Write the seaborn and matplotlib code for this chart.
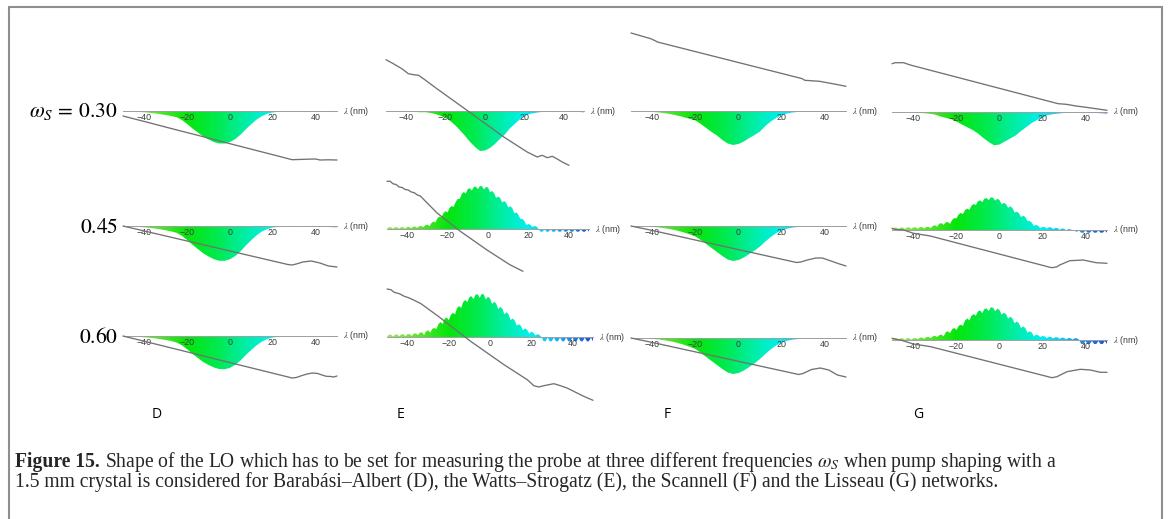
import numpy as np
import matplotlib
matplotlib.use("Agg")
import matplotlib.pyplot as plt
import seaborn as sns
from matplotlib.colors import LinearSegmentedColormap
from matplotlib.lines import Line2D

# ---------------------------------------------------------------- data
X_FINE = np.arange(-50, 51, 1.0)          # wavelength offset grid (nm), 1 nm step
X_COARSE = np.arange(-50, 50.01, 2.5)     # 2.5 nm step
TICKS = [-40, -20, 0, 20, 40]
TICK_LABELS = ['\u221240', '\u221220', '0', '20', '40']
ROW_LABELS = [r'$\omega_S\,=\,0.30$', r'$0.45$', r'$0.60$']
COL_LABELS = ['D', 'E', 'F', 'G']

# spectra (arbitrary units, negative = below the axis)
D1_SPEC = [-0.5, -0.6, -0.8, -1.0, -1.3, -1.8, -2.4, -3.2, -4.0, -5.0, -6.2, -9.0, -13.0, -17.5,
           -21.5, -25.5, -28.5, -31.0, -32.5, -32.5, -31.0, -28.0, -23.5, -18.0, -13.0, -8.5,
           -5.0, -2.8, -1.4, -0.9, -0.6, -0.5, -0.5, -0.5, -0.5, -0.6, -0.7, -0.8, -0.9, -1.0, -1.0]
D2_SPEC = [-0.5, -0.6, -0.8, -1.0, -1.4, -1.9, -2.6, -3.4, -4.3, -5.4, -6.8, -9.8, -14.0, -18.8,
           -23.0, -27.3, -30.5, -33.2, -34.8, -34.8, -33.2, -30.0, -25.2, -19.3, -14.0, -9.2,
           -5.4, -3.0, -1.5, -1.0, -0.7, -0.6, -0.5, -0.5, -0.6, -0.7, -0.8, -0.9, -1.0, -1.1, -1.2]
D3_SPEC = [-0.5, -0.6, -0.8, -1.0, -1.3, -1.8, -2.4, -3.2, -4.0, -5.0, -6.5, -9.3, -13.3, -17.8,
           -22.0, -26.0, -29.0, -31.5, -33.0, -33.3, -31.8, -28.8, -24.3, -18.8, -13.8, -9.2,
           -5.5, -3.0, -1.5, -0.9, -0.6, -0.5, -0.5, -0.5, -0.5, -0.6, -0.7, -0.8, -0.9, -1.0, -1.0]
E1_SPEC = [-0.5, -0.6, -0.6, -0.8, -0.8, -1.0, -1.0, -1.3, -1.2, -2.0, -3.0, -4.7, -7.0, -10.0,
           -14.3, -19.5, -25.0, -31.0, -36.0, -40.0, -39.5, -37.0, -33.0, -28.0, -23.5, -17.5,
           -13.0, -8.5, -5.0, -3.0, -2.0, -1.2, -0.7, -0.6, -0.6, -0.8, -0.8, -0.9, -1.0, -1.0, -1.2]
E2_SPEC = [0.3, 1.8, 1.8, 0.3, 1.8, 1.8, 0.3, 1.8, 1.8, 0.3,
           2.0, 2.1, 0.7, 2.3, 2.4, 1.1, 2.8, 3.0, 1.8, 3.8,
           4.5, 2.7, 6.0, 7.5, 6.5, 10.8, 12.5, 11.7, 16.0, 17.8,
           16.5, 21.2, 23.0, 22.0, 27.0, 30.0, 30.0, 35.0, 37.0, 35.5,
           40.0, 40.8, 38.5, 42.0, 42.5, 39.8, 43.0, 42.8, 39.5, 42.0,
           41.5, 36.8, 38.0, 36.0, 31.0, 32.5, 31.0, 26.5, 28.0, 26.2,
           21.5, 22.8, 21.0, 15.8, 16.5, 14.5, 10.0, 10.2, 8.0, 4.0,
           5.0, 4.2, 2.0, 3.0, 2.5, 0.0, -2.7, -2.7, -0.3, -2.7,
           -2.7, -0.3, -2.7, -2.7, -0.3, -2.7, -2.7, -0.3, -2.7, -2.7,
           -0.3, -2.7, -2.7, -0.3, -2.7, -2.7, -0.3, -2.7, -2.7, -0.3,
           -2.7]
E3_SPEC = [0.2, 2.3, 2.3, 0.4, 2.4, 2.5, 0.6, 2.7, 2.7, 0.8,
           2.8, 2.9, 1.0, 3.3, 3.6, 2.0, 4.3, 4.7, 2.0, 5.8,
           6.6, 4.4, 8.2, 9.0, 8.0, 13.0, 15.0, 13.0, 18.3, 19.5,
           16.8, 22.0, 24.3, 22.5, 28.8, 31.0, 29.0, 35.0, 37.0, 35.0,
           40.0, 40.8, 37.8, 42.3, 42.8, 39.2, 43.2, 42.5, 37.5, 40.3,
           38.6, 33.0, 35.2, 33.5, 27.8, 30.1, 28.4, 22.6, 24.8, 22.7,
           16.7, 18.6, 16.5, 11.4, 12.8, 11.3, 6.8, 8.6, 7.4, 3.3,
           5.3, 4.4, 1.6, 2.8, 2.0, 0.0, -4.3, -4.3, -0.5, -4.3,
           -4.3, -0.5, -4.3, -4.3, -0.5, -4.3, -4.3, -0.5, -4.3, -4.3,
           -0.5, -4.3, -4.3, -0.5, -4.3, -4.3, -0.5, -4.3, -4.3, -0.5,
           -4.3]
F1_SPEC = [-0.4, -0.5, -0.6, -0.8, -1.0, -1.4, -2.0, -2.8, -3.8, -5.0, -6.5, -8.0, -9.5, -13.0,
           -17.0, -21.0, -24.5, -29.0, -32.5, -34.0, -33.0, -30.5, -27.0, -24.0, -20.5, -15.0,
           -10.5, -7.0, -4.3, -2.5, -1.5, -1.0, -0.7, -0.6, -0.6, -0.6, -0.7, -0.8, -0.9, -1.0, -1.0]
F2_SPEC = [-0.4, -0.5, -0.6, -0.8, -1.0, -1.4, -2.0, -2.9, -3.9, -5.2, -6.7, -8.5, -10.5, -14.0,
           -18.0, -22.0, -26.0, -30.0, -33.5, -35.0, -34.0, -31.5, -28.0, -24.5, -20.5, -15.5,
           -11.0, -7.2, -4.5, -2.7, -1.6, -1.0, -0.7, -0.6, -0.6, -0.6, -0.7, -0.8, -0.9, -1.0, -1.0]
F3_SPEC = [-0.4, -0.5, -0.6, -0.8, -1.0, -1.4, -2.1, -3.0, -4.0, -5.4, -7.0, -9.0, -11.0, -14.8,
           -19.0, -23.0, -27.0, -31.0, -34.5, -36.0, -35.0, -32.5, -29.0, -25.3, -21.0, -16.0,
           -11.3, -7.5, -4.6, -2.8, -1.7, -1.1, -0.8, -0.6, -0.6, -0.6, -0.7, -0.8, -0.9, -1.0, -1.0]
G1_SPEC = [-0.5, -0.5, -0.6, -0.7, -0.8, -1.0, -1.2, -1.8, -2.6, -4.5, -5.8, -7.2, -9.5, -12.5,
           -15.2, -18.0, -21.5, -26.0, -30.0, -33.3, -32.5, -29.5, -26.5, -23.5, -19.0, -15.0,
           -11.0, -8.0, -5.5, -3.0, -2.2, -1.5, -1.0, -0.7, -0.6, -0.6, -0.7, -0.8, -1.0, -1.2, -1.5]
G2_SPEC = [0.7, 2.3, 2.4, 0.9, 2.5, 2.5, 1.0, 2.6, 2.6, 1.1,
           2.7, 2.7, 1.3, 2.9, 2.9, 1.5, 3.1, 3.2, 1.8, 4.0,
           4.8, 3.3, 6.3, 6.9, 5.1, 7.6, 8.0, 6.1, 10.1, 11.9,
           11.6, 15.6, 17.1, 15.8, 20.0, 21.4, 20.1, 24.4, 26.0, 24.9,
           28.8, 29.6, 27.8, 31.4, 32.0, 29.8, 32.7, 32.3, 29.3, 31.3,
           29.9, 25.8, 27.1, 26.0, 22.2, 23.8, 22.0, 17.4, 18.3, 17.0,
           12.9, 14.3, 13.0, 8.9, 9.2, 7.3, 4.0, 5.2, 4.1, 1.8,
           3.2, 3.0, 1.4, 2.8, 2.6, 0.9, 2.2, 1.9, 0.2, 1.5,
           1.3, -0.4, 0.9, 0.7, -0.6, -1.0, -1.8, -0.5, -2.7, -2.7,
           -0.5, -2.7, -2.7, -0.5, -2.7, -2.7, -0.5, -2.7, -2.7, -0.5,
           -2.7]
G3_SPEC = [0.2, 1.7, 1.7, 0.2, 1.7, 1.7, 0.2, 1.7, 1.7, 0.2,
           1.7, 1.9, 0.6, 2.3, 2.5, 1.2, 2.9, 3.1, 1.8, 3.7,
           4.1, 3.0, 4.8, 5.5, 3.6, 7.7, 8.8, 6.9, 11.0, 12.0,
           10.0, 14.1, 15.3, 14.1, 19.5, 21.6, 19.5, 24.3, 25.9, 24.2,
           28.7, 29.5, 26.9, 31.0, 31.6, 28.9, 32.7, 32.3, 28.7, 31.4,
           30.0, 25.3, 27.2, 26.0, 21.3, 23.3, 21.7, 16.7, 18.4, 16.8,
           11.9, 13.6, 12.0, 7.3, 8.7, 7.6, 3.5, 5.4, 4.8, 2.9,
           4.0, 3.7, 1.8, 3.2, 3.1, 1.5, 2.8, 2.7, 1.0, 2.4,
           2.2, 0.6, 2.0, 1.9, 0.4, 1.8, 1.7, 0.2, -4.0, -4.0,
           -1.0, -4.0, -4.0, -1.0, -4.0, -4.0, -1.0, -4.0, -4.0, -1.0,
           -4.0]

# local-oscillator (gray) curves: wavelength points and values
D1_GX = [-50, -40, -30, -20, -10, 0, 10, 20, 29, 32, 36, 40, 42, 46, 50]
D1_GY = [-5.0, -10.5, -16.1, -21.6, -27.1, -32.7, -38.2, -43.7, -48.7, -48.5, -48.2, -48.0, -49.0, -48.8, -49.0]
D2_GX = [-50, -45, -40, -30, -20, -10, 0, 10, 20, 27, 29, 31, 34, 38, 42, 46, 50]
D2_GY = [0.0, -2.5, -5.0, -10.0, -15.0, -20.0, -25.0, -30.0, -35.0, -38.5, -39.0, -38.0, -36.0, -35.0, -37.0, -40.0, -41.0]
D3_GX = [-50, -40, -30, -20, -10, 0, 10, 20, 27, 29, 31, 33, 36, 38.6, 41, 43, 45, 47, 48.5, 50]
D3_GY = [0.0, -5.3, -10.6, -15.9, -21.3, -26.6, -31.9, -37.2, -40.9, -42.0, -41.5, -40.0, -38.0, -37.0, -37.5, -39.0, -40.3, -40.5, -41.0, -40.0]
E1_GX = [-50, -46.3, -42, -38.7, -36.1, -33.6, -31.1, -24.3, -9.1, 9.5, 21.3, 26.4, 28.9, 31.4, 34, 36.5, 39, 42.4]
E1_GY = [51.3, 47.3, 42.3, 37.3, 36.3, 35.7, 32.3, 22.3, 0.7, -26.0, -41.0, -46.0, -44.3, -46.7, -45.3, -48.0, -51.0, -54.3]
E2_GX = [-50, -48.5, -47, -45.5, -44, -42.5, -41, -39.5, -38, -36.5, -35, -33.5, -31.7, -25.2, -13.7, -0.7, 10.8, 17.3]
E2_GY = [47.7, 47.8, 45.2, 44.5, 42.0, 41.5, 39.5, 39.0, 37.0, 36.3, 34.0, 33.0, 29.3, 16.0, -2.3, -20.7, -35.7, -42.3]
E3_GX = [-50, -48.1, -46.5, -44, -41.6, -39.2, -36.8, -33.5, -25.5, -9.4, 6.8, 18.1, 21.3, 23.7, 26.1, 28.5, 31, 34.2, 37.4, 40.6, 45.5, 50]
E3_GY = [48.0, 47.3, 44.7, 43.3, 40.7, 39.0, 36.7, 33.3, 21.3, -4.3, -27.7, -42.7, -48.7, -50.0, -48.7, -47.7, -46.7, -48.7, -51.0, -54.3, -59.3, -63.3]
F1_GX = [-50, -40.8, -38.5, -37.7, 29.7, 30.8, 37.7, 43.8, 50]
F1_GY = [78.0, 72.3, 70.0, 69.0, 32.3, 30.7, 29.7, 27.3, 24.7]
F2_GX = [-50, -40, 27, 29, 32, 36, 39, 43, 47, 50]
F2_GY = [0.0, -4.5, -36.5, -36.0, -34.0, -32.0, -32.0, -35.0, -38.0, -40.0]
F3_GX = [-50, -40, 28, 30, 34, 38, 42, 46, 50]
F3_GY = [0.0, -4.5, -36.5, -35.5, -31.5, -30.0, -32.0, -37.0, -39.0]
G1_GX = [-50, -48.5, -44.6, -41.5, 27.3, 31, 35.6, 40.3, 50]
G1_GY = [48.3, 49.3, 49.3, 47.0, 8.3, 7.7, 6.0, 4.7, 1.7]
G2_GX = [-50, -48.5, -44.6, -40, -32.2, 24.2, 26.5, 28, 32.7, 38.9, 45, 50]
G2_GY = [1.7, 0.7, 0.0, -3.3, -6.0, -37.7, -37.0, -35.0, -30.7, -30.0, -32.7, -33.3]
G3_GX = [-50, -46.1, -40, -32, 24.4, 26.7, 31.4, 37.6, 42.3, 46.9, 50]
G3_GY = [1.7, 0.0, -4.0, -6.7, -37.7, -36.7, -31.7, -29.3, -30.0, -32.3, -32.3]

CAPTION_BOLD = 'Figure 15.'
CAPTION_1 = r'Shape of the LO which has to be set for measuring the probe at three different frequencies $\omega_S$ when pump shaping with a'
CAPTION_2 = '1.5 mm crystal is considered for Barab\u00e1si\u2013Albert (D), the Watts\u2013Strogatz (E), the Scannell (F) and the Lisseau (G) networks.'

# ---------------------------------------------------------------- layout
W, H = 1168, 519
sns.set_theme(style="white")
plt.rcParams['font.family'] = ['DejaVu Sans']
plt.rcParams['mathtext.fontset'] = 'stix'

fig = plt.figure(figsize=(W / 100, H / 100), dpi=100)
fig.patch.set_facecolor('white')

CMAP = LinearSegmentedColormap.from_list('spec', [
    (0.00, (0.60, 0.89, 0.36)),
    (0.15, (0.36, 0.90, 0.18)),
    (0.30, (0.02, 0.90, 0.05)),
    (0.45, (0.00, 0.92, 0.33)),
    (0.55, (0.00, 0.93, 0.60)),
    (0.70, (0.00, 0.94, 0.94)),
    (0.80, (0.08, 0.76, 0.95)),
    (0.90, (0.12, 0.52, 0.90)),
    (1.00, (0.10, 0.32, 0.86)),
])
GRAD = np.vstack([np.linspace(-50, 50, 400)] * 2)

# panel: (x grid, spectrum, gray x, gray y, left px, right px, axis-y px)
PANELS = [
    (X_COARSE, D1_SPEC, D1_GX, D1_GY, 123, 337, 111),
    (X_COARSE, D2_SPEC, D2_GX, D2_GY, 123, 337, 226),
    (X_COARSE, D3_SPEC, D3_GX, D3_GY, 123, 337, 336),
    (X_COARSE, E1_SPEC, E1_GX, E1_GY, 386, 584, 111),
    (X_FINE, E2_SPEC, E2_GX, E2_GY, 387, 589, 229),
    (X_FINE, E3_SPEC, E3_GX, E3_GY, 387, 593, 337),
    (X_COARSE, F1_SPEC, F1_GX, F1_GY, 631, 846, 111),
    (X_COARSE, F2_SPEC, F2_GX, F2_GY, 631, 846, 226),
    (X_COARSE, F3_SPEC, F3_GX, F3_GY, 631, 846, 338),
    (X_COARSE, G1_SPEC, G1_GX, G1_GY, 892, 1107, 112),
    (X_FINE, G2_SPEC, G2_GX, G2_GY, 892, 1107, 230),
    (X_FINE, G3_SPEC, G3_GX, G3_GY, 892, 1107, 340),
]
HALF = 80

for xg, spec, gx, gy, x0, x1, yp in PANELS:
    ax = fig.add_axes([x0 / W, 1 - (yp + HALF) / H, (x1 - x0) / W, 2 * HALF / H])
    ax.set_facecolor('none')
    coll = ax.fill_between(xg, 0, spec, facecolor='none', edgecolor='none', linewidth=0)
    im = ax.imshow(GRAD, extent=[-50, 50, -HALF, HALF], origin='lower', aspect='auto',
                   cmap=CMAP, vmin=-50, vmax=50, interpolation='bilinear', zorder=1)
    paths = coll.get_paths()
    if paths:
        im.set_clip_path(paths[0], transform=ax.transData)
    sns.lineplot(x=gx, y=gy, ax=ax, color='#727272', linewidth=0.95, sort=False,
                 estimator=None, zorder=5, clip_on=False)
    ax.set_xlim(-50, 50)
    ax.set_ylim(-HALF, HALF)
    ax.set_xlabel('')
    ax.set_ylabel('')
    for sp in ['left', 'right', 'top']:
        ax.spines[sp].set_visible(False)
    ax.spines['bottom'].set_position(('data', 0))
    ax.spines['bottom'].set_color('#a0a0a0')
    ax.spines['bottom'].set_linewidth(0.7)
    ax.set_xticks(TICKS)
    ax.set_xticklabels(TICK_LABELS, fontfamily='Liberation Sans', fontsize=6.4)
    ax.set_xticks(np.arange(-50, 51, 5), minor=True)
    ax.tick_params(axis='x', which='major', direction='in', length=2.5, width=0.5,
                   color='#a0a0a0', labelcolor='#3c3c3c', pad=1.2)
    ax.tick_params(axis='x', which='minor', direction='in', length=1.3, width=0.4, color='#b0b0b0')
    ax.set_yticks([])
    ax.xaxis.set_zorder(3)
    ax.text(53, 0, r'$\lambda$ (nm)', ha='left', va='center', fontsize=6.4,
            fontfamily='Liberation Sans', color='#3c3c3c', clip_on=False)

# row labels
for lab, yp in zip(ROW_LABELS, [112, 227, 337]):
    fig.text(118 / W, 1 - yp / H, lab, ha='right', va='center', fontsize=15.5, color='black')

# column letters
for lab, xp in zip(COL_LABELS, [157, 401, 667, 918]):
    fig.text(xp / W, 1 - 415 / H, lab, ha='center', va='center', fontsize=10,
             fontfamily='Open Sans', color='black')

# caption
renderer = fig.canvas.get_renderer()
fs0 = 12.0
tb = fig.text(0, 0, CAPTION_BOLD + ' ', fontweight='bold', fontfamily='Liberation Serif', fontsize=fs0)
tn = fig.text(0, 0, CAPTION_1, fontfamily='Liberation Serif', fontsize=fs0)
wtot = tb.get_window_extent(renderer).width + tn.get_window_extent(renderer).width
tb.remove(); tn.remove()
fs = fs0 * 1093 / wtot * 0.95
tb = fig.text(15 / W, 1 - 462 / H, CAPTION_BOLD + ' ', fontweight='bold',
              fontfamily='Liberation Serif', fontsize=fs, va='center', ha='left')
wb = tb.get_window_extent(renderer).width
fig.text((15 + wb) / W, 1 - 462 / H, CAPTION_1, fontfamily='Liberation Serif', fontsize=fs,
         va='center', ha='left')
fig.text(15 / W, 1 - 482 / H, CAPTION_2, fontfamily='Liberation Serif', fontsize=fs,
         va='center', ha='left')

# frame
bc = '#8e8e8e'
fig.add_artist(Line2D([8.5 / W, 8.5 / W], [0, 1 - 6.5 / H], color=bc, lw=1.5, transform=fig.transFigure))
fig.add_artist(Line2D([8.5 / W, 1161.5 / W], [1 - 6.5 / H, 1 - 6.5 / H], color=bc, lw=1.5, transform=fig.transFigure))
fig.add_artist(Line2D([1161.5 / W, 1161.5 / W], [0, 1 - 6.5 / H], color=bc, lw=1.5, transform=fig.transFigure))

fig.savefig('out.png', dpi=100, facecolor='white')
